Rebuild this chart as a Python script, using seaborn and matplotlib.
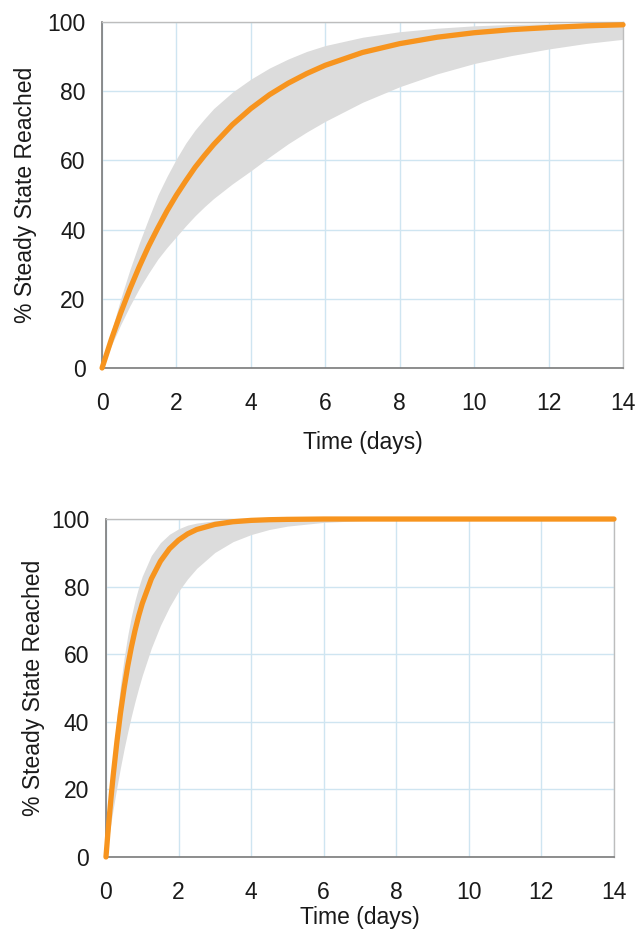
import matplotlib
matplotlib.use('Agg')
import matplotlib.pyplot as plt
import seaborn as sns
import pandas as pd

# top panel: slower approach to steady state
time_top = [0, 0.25, 0.5, 0.75, 1, 1.25, 1.5, 1.75, 2, 2.25, 2.5, 2.75, 3, 3.5, 4, 4.5,
            5, 5.5, 6, 7, 8, 9, 10, 11, 12, 13, 14]
mean_top = [0, 8.3, 15.9, 22.9, 29.3, 35.2, 40.5, 45.5, 50, 54.1, 58.0, 61.4, 64.6, 70.3,
            75, 79.0, 82.3, 85.1, 87.5, 91.2, 93.75, 95.6, 96.9, 97.8, 98.4, 98.9, 99.2]
upper_top = [0, 10.6, 20.0, 28.5, 36.1, 43.2, 50, 55.5, 60.5, 65, 68.8, 72, 75, 79.7,
             83.5, 86.7, 89.3, 91.5, 93.2, 95.6, 97.2, 98.2, 98.9, 99.3, 99.5, 99.7, 99.8]
lower_top = [0, 6.5, 12.5, 18, 23, 27.4, 31.5, 34.9, 38, 41.1, 44, 46.6, 49, 53.2,
             57, 61, 64.8, 68.2, 71.3, 76.8, 81.3, 85, 88, 90.3, 92.2, 93.8, 95]

# bottom panel: fast approach
time_bot = [0, 0.05, 0.1, 0.15, 0.2, 0.3, 0.4, 0.5, 0.6, 0.7, 0.8, 0.9, 1, 1.25, 1.5,
            1.75, 2, 2.25, 2.5, 3, 3.5, 4, 4.5, 5, 6, 7, 8, 10, 12, 14]
mean_bot = [0, 6.7, 12.9, 18.8, 24.2, 34.0, 42.6, 50, 56.5, 62.1, 67.0, 71.3, 75, 82.3,
            87.5, 91.2, 93.75, 95.6, 96.9, 98.4, 99.2, 99.6, 99.8, 99.9, 100, 100, 100,
            100, 100, 100]
upper_bot = [0, 8.5, 16.3, 23.4, 29.9, 41.3, 50.9, 58.9, 65.6, 71.2, 75.9, 79.8, 83.1,
             89.2, 93.0, 95.5, 97.1, 98.2, 98.8, 99.5, 99.8, 99.9, 100, 100, 100, 100,
             100, 100, 100, 100]
lower_bot = [0, 3.8, 7.4, 10.9, 14.3, 20.6, 26.5, 32.0, 37.0, 41.7, 46.0, 50, 53.7,
             61.8, 68.5, 74.0, 78.6, 82.3, 85.4, 90.1, 93.3, 95.4, 96.9, 97.9, 99.0,
             99.5, 99.8, 100, 100, 100]

x_ticks = [0, 2, 4, 6, 8, 10, 12, 14]
y_ticks = [0, 20, 40, 60, 80, 100]

sns.set_theme(style='white')
plt.rcParams['font.family'] = ['Liberation Sans', 'DejaVu Sans']
plt.rcParams['font.size'] = 16.5

ORANGE = '#f7941e'
BAND = '#dcdcdc'
GRID = '#cfe5f1'


def draw_panel(ax, t, mean, lo, hi, ylabelpad, xlabelpad):
    ax.fill_between(t, lo, hi, color=BAND, linewidth=0, zorder=1)
    df = pd.DataFrame({'t': t, 'v': mean})
    sns.lineplot(data=df, x='t', y='v', ax=ax, color=ORANGE, linewidth=3.8,
                 solid_capstyle='round', zorder=3, clip_on=False)
    ax.set_xlim(0, 14)
    ax.set_ylim(0, 100)
    ax.set_xticks(x_ticks)
    ax.set_yticks(y_ticks)
    ax.grid(True, color=GRID, linewidth=1.0, zorder=0)
    ax.set_axisbelow(True)
    for side in ['left', 'bottom']:
        ax.spines[side].set_color('#7a7a7a')
        ax.spines[side].set_linewidth(1.2)
    for side in ['top', 'right']:
        ax.spines[side].set_color('#bdbdbd')
        ax.spines[side].set_linewidth(1.0)
    ax.tick_params(axis='both', direction='out', length=8, width=1.1, color='#7a7a7a',
                   labelsize=16.5, labelcolor='#1a1a1a')
    ax.tick_params(axis='x', pad=9)
    ax.tick_params(axis='y', pad=4)
    ax.set_xlabel('Time (days)', fontsize=16.5, color='#1a1a1a', labelpad=xlabelpad)
    ax.set_ylabel('% Steady State Reached', fontsize=16.5, color='#1a1a1a',
                  labelpad=ylabelpad)


fig = plt.figure(figsize=(6.38, 9.33), dpi=100)
ax1 = fig.add_axes([0.160, 0.6056, 0.8165, 0.3708])
ax2 = fig.add_axes([0.1661, 0.0815, 0.7963, 0.3622])

draw_panel(ax1, time_top, mean_top, lower_top, upper_top, 7, 12)
draw_panel(ax2, time_bot, mean_bot, lower_bot, upper_bot, 4, 1.5)

fig.savefig('out.png', dpi=100, facecolor='white')
plt.close(fig)
